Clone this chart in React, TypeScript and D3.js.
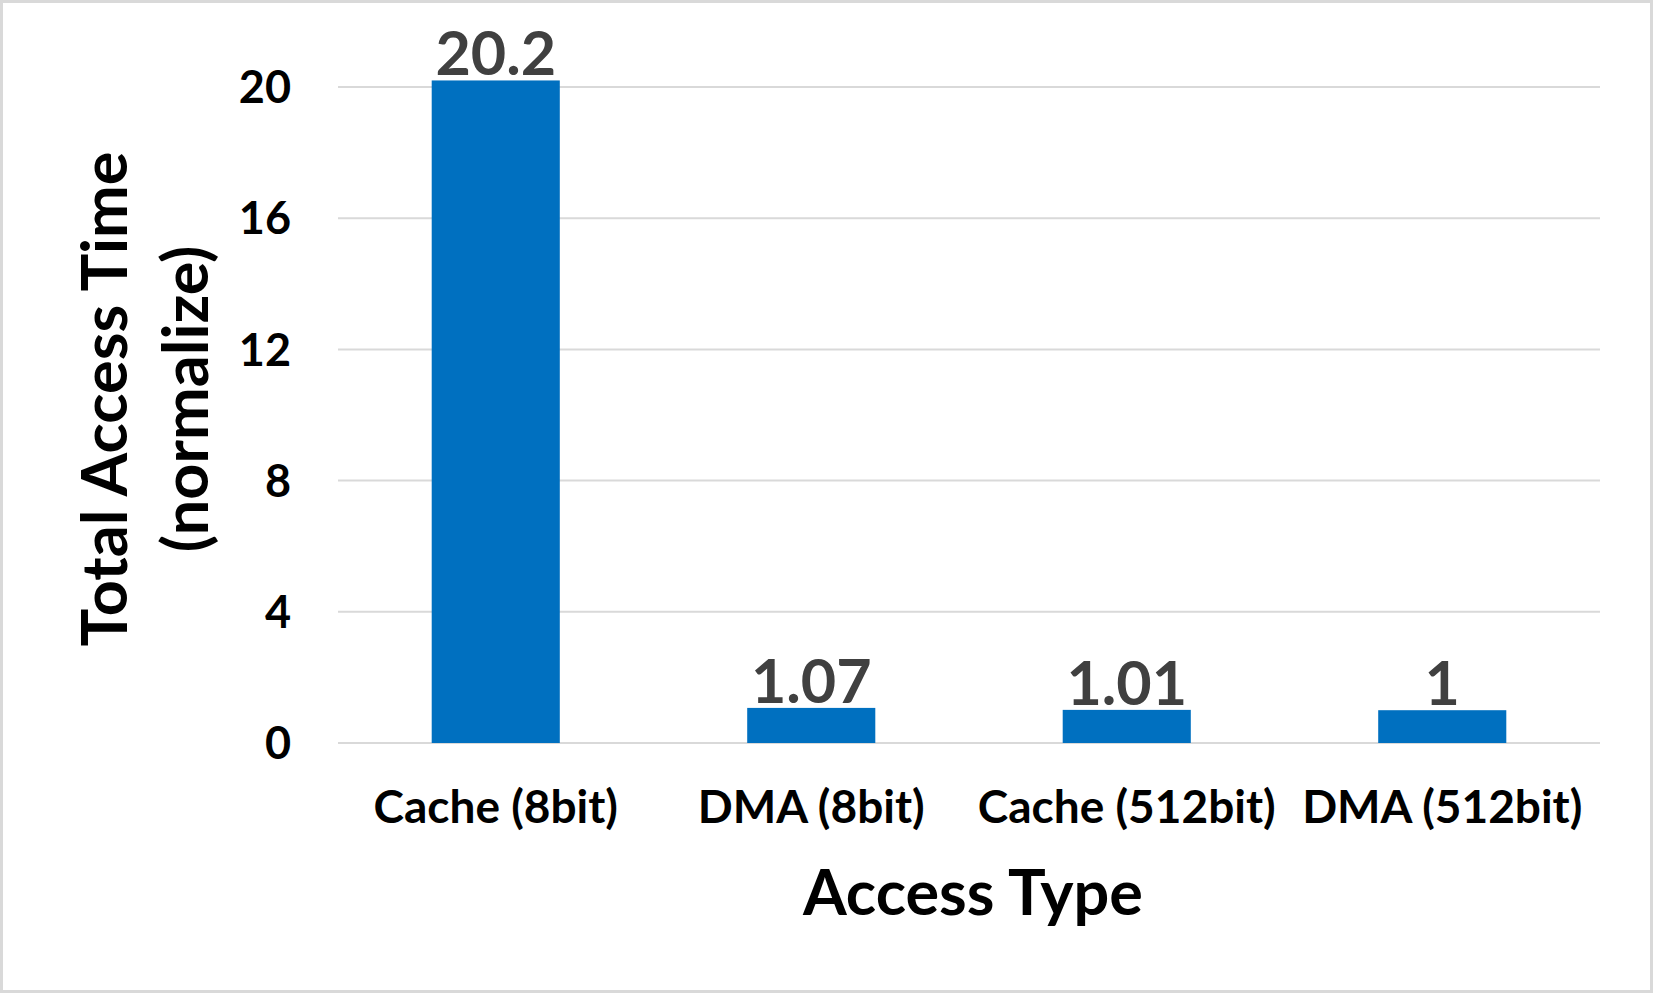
import React, { useRef, useEffect } from "react";
import * as d3 from "d3";

const categories = ["Cache (8bit)", "DMA (8bit)", "Cache (512bit)", "DMA (512bit)"];
const values = [20.2, 1.07, 1.01, 1];
const valueLabels = ["20.2", "1.07", "1.01", "1"];
const yTicks = [0, 4, 8, 12, 16, 20];

const W = 1653;
const H = 993;
const FONT = "Lato, 'Open Sans', sans-serif";

const App = () => {
    const svgRef = useRef<SVGSVGElement>(null);

    useEffect(() => {
        const svg = d3.select(svgRef.current);
        svg.selectAll("*").remove();

        // plot area
        const left = 338, right = 1600, top = 87, bottom = 743;

        const x = d3.scaleBand<string>()
            .domain(categories)
            .range([left, right])
            .paddingInner(0.594)
            .paddingOuter(0.297);

        const y = d3.scaleLinear().domain([0, 20]).range([bottom, top]);

        // outer frame
        svg.append("rect")
            .attr("x", 1.5).attr("y", 1.5)
            .attr("width", W - 3).attr("height", H - 3)
            .attr("fill", "#fff")
            .attr("stroke", "#d9d9d9")
            .attr("stroke-width", 3);

        // gridlines
        svg.append("g")
            .selectAll("line")
            .data(yTicks)
            .join("line")
            .attr("x1", left).attr("x2", right)
            .attr("y1", d => y(d)).attr("y2", d => y(d))
            .attr("stroke", "#d9d9d9")
            .attr("stroke-width", 2);

        // y tick labels
        svg.append("g")
            .selectAll("text")
            .data(yTicks)
            .join("text")
            .attr("x", 291)
            .attr("y", d => y(d))
            .attr("dy", "0.36em")
            .attr("text-anchor", "end")
            .attr("font-family", FONT)
            .attr("font-weight", 700)
            .attr("font-size", 45)
            .attr("fill", "#000")
            .text(d => d);

        // bars
        svg.append("g")
            .selectAll("rect")
            .data(values)
            .join("rect")
            .attr("x", (d, i) => x(categories[i])!)
            .attr("width", x.bandwidth())
            .attr("y", d => y(d))
            .attr("height", d => bottom - y(d))
            .attr("fill", "#0070c0");

        // value labels
        svg.append("g")
            .selectAll("text")
            .data(values)
            .join("text")
            .attr("x", (d, i) => x(categories[i])! + x.bandwidth() / 2)
            .attr("y", d => y(d) - 5)
            .attr("text-anchor", "middle")
            .attr("font-family", FONT)
            .attr("font-weight", 700)
            .attr("font-size", 61)
            .attr("fill", "#404040")
            .text((d, i) => valueLabels[i]);

        // category labels
        svg.append("g")
            .selectAll("text")
            .data(categories)
            .join("text")
            .attr("x", d => x(d)! + x.bandwidth() / 2)
            .attr("y", 823)
            .attr("text-anchor", "middle")
            .attr("font-family", FONT)
            .attr("font-weight", 700)
            .attr("font-size", 46)
            .attr("fill", "#000")
            .text(d => d);

        // x axis title
        svg.append("text")
            .attr("x", 973)
            .attr("y", 915)
            .attr("text-anchor", "middle")
            .attr("font-family", FONT)
            .attr("font-weight", 700)
            .attr("font-size", 63)
            .attr("fill", "#000")
            .text("Access Type");

        // y axis title, two lines
        const yTitle = svg.append("text")
            .attr("transform", "translate(127,399) rotate(-90)")
            .attr("text-anchor", "middle")
            .attr("font-family", FONT)
            .attr("font-weight", 700)
            .attr("font-size", 63)
            .attr("fill", "#000");
        yTitle.append("tspan").attr("x", 0).attr("y", 0).text("Total Access Time");
        yTitle.append("tspan").attr("x", 0).attr("y", 81).text("(normalize)");
    }, []);

    return (
        <svg
            ref={svgRef}
            width={W}
            height={H}
            style={{ position: "absolute", left: 0, top: 0, display: "block" }}
        />
    );
};

export default App;
